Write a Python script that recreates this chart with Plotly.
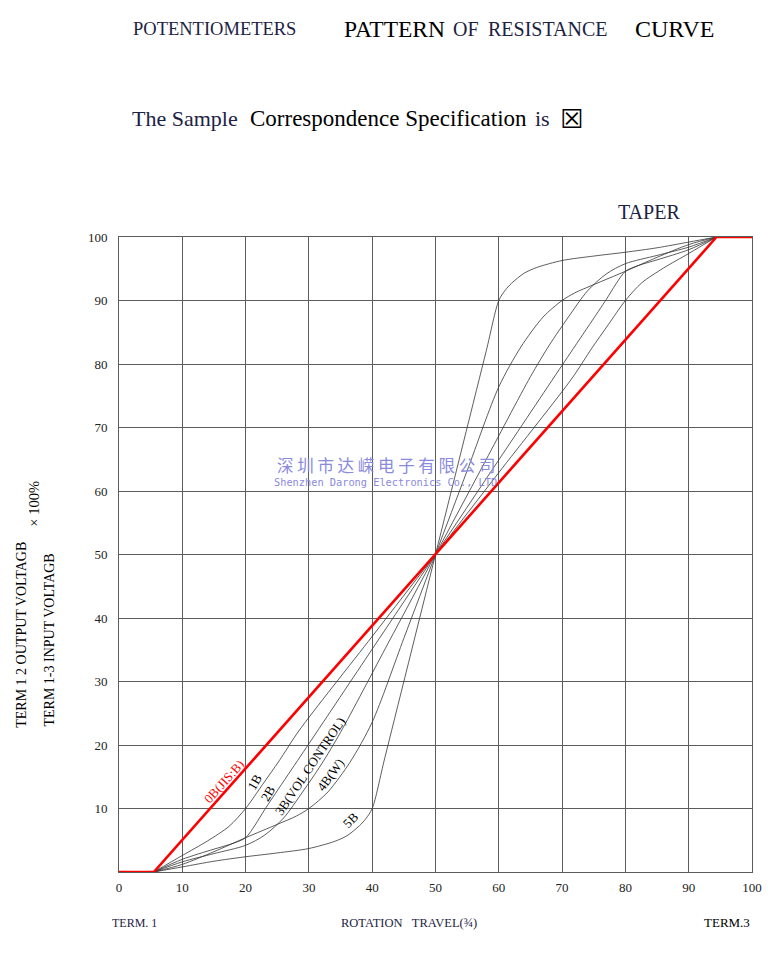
import plotly.graph_objects as go

# ---------------- data ----------------
x_ticks = [0, 10, 20, 30, 40, 50, 60, 70, 80, 90, 100]
y_ticks = [10, 20, 30, 40, 50, 60, 70, 80, 90, 100]

red_x = [0, 5.5, 94.4, 100]
red_y = [0, 0, 100, 100]

b5_x = [5.5, 10, 15, 20, 25, 30, 34, 36, 38, 39, 40, 42, 50, 58, 60, 61, 62, 64, 66, 70, 75, 80, 85, 90, 94.4]
b5_y = [0, 0.8, 1.7, 2.4, 3.0, 3.7, 4.8, 5.7, 7.3, 8.4, 10, 18, 50, 82, 90, 91.6, 92.7, 94.3, 95.2, 96.3, 97.0, 97.6, 98.3, 99.2, 100]

b4_x = [5.5, 10, 15, 20, 25, 28, 30, 33, 36.5, 40, 45, 50, 55, 60, 63.5, 67, 70, 72, 75, 80, 85, 90, 94.4]
b4_y = [0, 1.2, 3.2, 5.4, 7.5, 8.8, 10, 12.6, 17.3, 23.6, 36.8, 50, 63.2, 76.4, 82.7, 87.4, 90, 91.2, 92.5, 94.6, 96.8, 98.8, 100]

b3_x = [5.5, 10, 15, 20, 23, 26, 29, 32, 35, 42.5, 50, 57.5, 65, 68, 71, 74, 77, 80, 85, 90, 94.4]
b3_y = [0, 1.6, 2.9, 4.2, 5.8, 8.5, 12.6, 17.0, 22.0, 36.0, 50, 64.0, 78.0, 83.0, 87.4, 91.5, 94.2, 95.8, 97.1, 98.4, 100]

b2_x = [5.5, 10, 15, 18, 20, 21.5, 23, 30, 40, 50, 60, 70, 77, 78.5, 80, 82, 85, 90, 94.4]
b2_y = [0, 2.0, 3.6, 4.5, 5.4, 7.4, 9.8, 20.2, 35.1, 50, 64.9, 79.8, 90.2, 92.6, 94.6, 95.5, 96.4, 98.0, 100]

b1_x = [5.5, 10, 14, 17.4, 20, 22.7, 25.3, 28.4, 40, 50, 60, 71.6, 74.7, 77.3, 80, 82.6, 86, 90, 94.4]
b1_y = [0, 2.6, 4.9, 7.2, 10, 13.8, 17.5, 22.2, 37.1, 50, 62.9, 77.8, 82.5, 86.2, 90, 92.8, 95.1, 97.4, 100]

curve_labels = ["0B(JIS:B)", "1B", "2B", "3B(VOL CONTROL)", "4B(W)", "5B"]
label_x = [16.6, 21.5, 23.5, 30.3, 33.4, 36.7]
label_y = [14.2, 14.2, 12.4, 16.7, 15.4, 8.2]
label_angle = [-48, -60, -60, -56, -54, -45]
label_color = ["#ff0000", "#000000", "#000000", "#000000", "#000000", "#000000"]

# ---------------- figure ----------------
fig = go.Figure()

for xs, ys in [(b1_x, b1_y), (b2_x, b2_y), (b3_x, b3_y), (b4_x, b4_y), (b5_x, b5_y)]:
    fig.add_trace(go.Scatter(x=xs, y=ys, mode="lines",
                             line=dict(color="#333333", width=0.8, shape="spline", smoothing=0.8),
                             hoverinfo="skip", cliponaxis=False))

fig.add_trace(go.Scatter(x=red_x, y=red_y, mode="lines",
                         line=dict(color="#ff0000", width=2.6),
                         hoverinfo="skip", cliponaxis=False))

SER = "Liberation Serif, serif"
SIM = "Liberation Serif, serif"
NAVY = "#1c2244"

L, R, T, B = 119, 17, 237, 84
W, H = 774, 956
PW, PH = W - L - R, H - T - B


def px(xp):
    return (xp - L) / PW


def py(yp):
    return (H - B - yp) / PH


anns = []


def txt(text, x, y, size, family, color="#000", xanchor="left", angle=0):
    anns.append(dict(text=text, x=px(x), y=py(y), xref="paper", yref="paper",
                     xanchor=xanchor, yanchor="middle", showarrow=False,
                     textangle=angle, font=dict(size=size, family=family, color=color)))


# title line
txt("POTENTIOMETERS", 131, 29, 18.5, SIM, NAVY)
txt("PATTERN", 344, 29, 23.5, SER, "#000")
txt("OF", 454, 29, 20, SIM, NAVY)
txt("RESISTANCE", 489, 29, 20, SIM, NAVY)
txt("CURVE", 637, 29, 24, SER, "#000")

# second line
txt("The Sample", 130, 119, 22, SIM, NAVY)
txt("Correspondence Specification", 249, 119, 23, SER, "#000")
txt("is", 536, 119, 22, SIM, NAVY)
txt("\u2612", 561, 119, 26, "DejaVu Sans", "#000")

txt("TAPER", 620, 212, 20, SIM, NAVY)

# y-axis titles
txt("TERM 1 2 OUTPUT VOLTAGB", 20, 635, 14, SER, "#000", "center", -90)
txt("\u00d7 100%", 33, 504, 14.5, SER, "#000", "center", -90)
txt("TERM 1-3 INPUT VOLTAGB", 48, 640, 14, SER, "#000", "center", -90)

# bottom texts
txt("TERM. 1", 110, 923, 12, SIM, NAVY)
txt("ROTATION\u00a0\u00a0\u00a0TRAVEL(\u00be)", 341, 923, 12.5, SIM, NAVY)
txt("TERM.3", 707, 923, 13, SER, "#000")

# watermark
txt("\u00a0".join("深圳市达嵘电子有限公司"), 388, 465, 16.5, "Noto Sans CJK SC", "#8a8ade", "center")
txt("Shenzhen Darong Electronics Co., LTD", 388, 482, 10.3, "DejaVu Sans Mono", "#8a8ade", "center")

# curve labels
for t, lx, ly, a, c in zip(curve_labels, label_x, label_y, label_angle, label_color):
    anns.append(dict(text=t, x=lx, y=ly, xref="x", yref="y", showarrow=False,
                     xanchor="center", yanchor="middle", textangle=a,
                     font=dict(size=13, family=SER, color=c)))

fig.update_layout(
    width=W, height=H,
    margin=dict(l=L, r=R, t=T, b=B),
    plot_bgcolor="white", paper_bgcolor="white",
    showlegend=False,
    annotations=anns,
    xaxis=dict(range=[0, 100], tickvals=x_ticks, ticktext=[str(v) for v in x_ticks],
               showgrid=True, gridcolor="#5c5c5c", gridwidth=1,
               showline=True, linecolor="#5c5c5c", linewidth=1, mirror=True,
               zeroline=False, ticks="", ticklabelstandoff=3,
               tickfont=dict(size=13, family=SER, color="#222")),
    yaxis=dict(range=[0, 100], tickvals=y_ticks, ticktext=[str(v) for v in y_ticks],
               showgrid=True, gridcolor="#5c5c5c", gridwidth=1,
               showline=True, linecolor="#5c5c5c", linewidth=1, mirror=True,
               zeroline=False, ticks="", ticklabelstandoff=8,
               tickfont=dict(size=13, family=SER, color="#222")),
)

fig.write_html("out.html")
